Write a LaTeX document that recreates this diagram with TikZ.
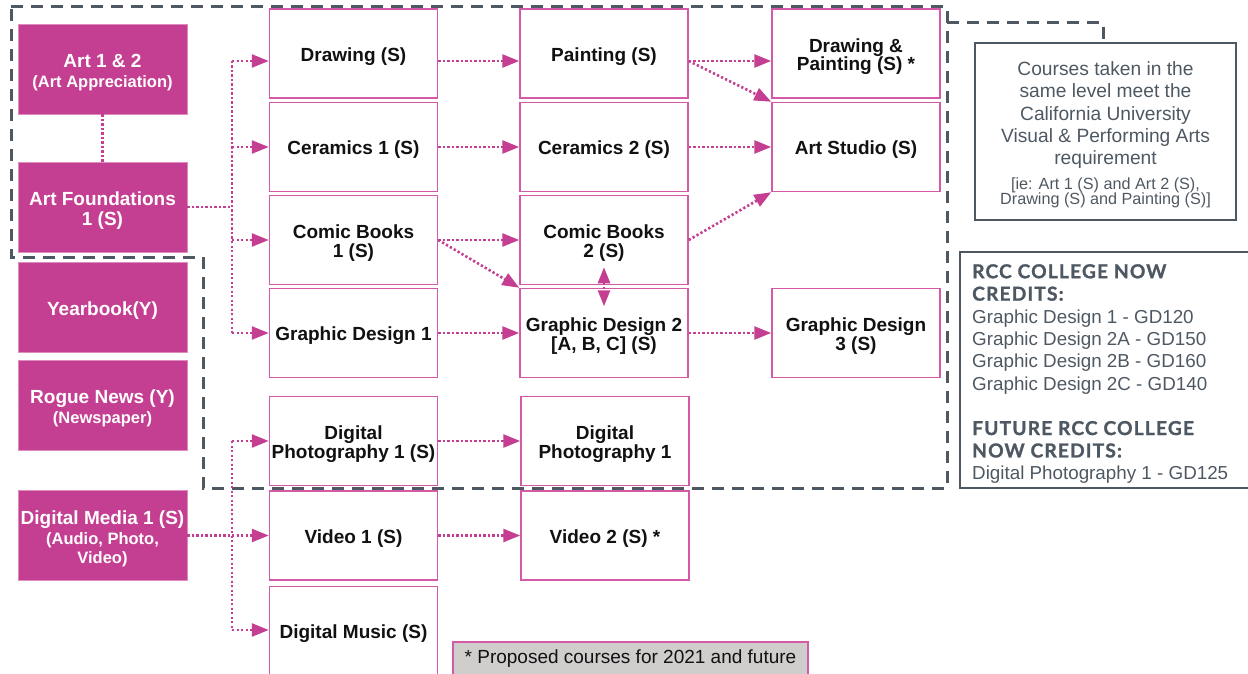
\documentclass[tikz,border=0pt]{standalone}
\usepackage{fontspec}
\setmainfont{Liberation Sans}
\newfontfamily\headfont[LetterSpace=6,FakeBold=1.2]{Lato}
\usetikzlibrary{arrows.meta,calc}
\definecolor{mag}{RGB}{196,63,145}
\definecolor{pinkb}{RGB}{212,90,168}
\definecolor{gry}{RGB}{78,88,98}
\definecolor{txt}{RGB}{17,17,17}
\definecolor{legfill}{RGB}{208,205,205}
\tikzset{
  mbox/.style={fill=mag, draw=mag!60!white, line width=0.8pt, minimum width=169pt, minimum height=90pt, inner sep=0pt},
  mtext/.style={inner sep=0pt, align=center, text=white, font=\bfseries\fontsize{19}{19.5}\selectfont},
  wbox/.style={fill=white, draw=pinkb, line width=1.5pt, minimum width=168pt, minimum height=89pt, inner sep=0pt},
  wtext/.style={inner sep=0pt, align=center, text=txt, font=\bfseries\fontsize{19}{18.3}\selectfont},
  dotl/.style={draw=mag, line width=2.6pt, dash pattern=on 2.3pt off 2.2pt},
  arr/.style={dotl, -{Triangle[length=17pt,width=13pt]}},
  arrtwo/.style={dotl, {Triangle[length=16pt,width=12pt]}-{Triangle[length=16pt,width=12pt]}},
  dashb/.style={draw=gry, line width=3pt, dash pattern=on 12pt off 8pt}
}
\newcommand{\subt}[1]{{\fontsize{16.5}{19}\selectfont #1}}
\newcommand{\wbx}[3]{\node[wbox] (#1) at (#2) {}; \node[wtext] (#1-t) at ($(#1)+(0,3)$) {#3};}
\newcommand{\mbx}[3]{\node[mbox] (#1) at (#2) {}; \node[mtext] (#1-t) at ($(#1)+(0,3.5)$) {#3};}
\begin{document}
\begin{tikzpicture}[x=1pt,y=-1pt]
\useasboundingbox (0,0) rectangle (1248,674);
\clip (0,0) rectangle (1248,674);
% dashed group outline
\draw[dashb] (11,7) -- (947,7) -- (947,488) -- (203,488) -- (203,257) -- (11,257) -- cycle;
% note box
\node[draw=gry, line width=1.5pt, minimum width=261pt, minimum height=177pt, inner sep=0pt] (note) at (1105.5,131.5) {};
\node[inner sep=0pt, align=center, text=gry, font=\fontsize{19.2}{22.3}\selectfont] (note-t) at ($(note)+(0,3.5)$)
 {Courses taken in the\\ same level meet the\\ California University\\ Visual \& Performing Arts\\ requirement\\[2pt]
 {\fontsize{16.2}{15.6}\selectfont [ie: Art 1 (S) and Art 2 (S),}\\[-6.5pt]
 {\fontsize{16.2}{15.6}\selectfont Drawing (S) and Painting (S)]}};
\coordinate (nc) at (947,23);
\draw[dashb] (nc) -| ($(note.north)+(-2.5,0)$);
% RCC box
\node[draw=gry, line width=1.5pt, minimum width=300pt, minimum height=236pt, inner sep=0pt] (rcc) at (1110,370) {};
\node[anchor=north west, inner sep=0pt, align=left, text=gry, font=\fontsize{18.8}{22.4}\selectfont] (rcc-t) at (972,264)
 {{\headfont\bfseries\fontsize{19.2}{22.4}\selectfont RCC COLLEGE NOW}\\
  {\headfont\bfseries\fontsize{19.2}{22.4}\selectfont CREDITS:}\\
  Graphic Design 1 - GD120\\
  Graphic Design 2A - GD150\\
  Graphic Design 2B - GD160\\
  Graphic Design 2C - GD140\\[22.4pt]
  {\headfont\bfseries\fontsize{19.2}{22.4}\selectfont FUTURE RCC COLLEGE}\\
  {\headfont\bfseries\fontsize{19.2}{22.4}\selectfont NOW CREDITS:}\\
  Digital Photography 1 - GD125};
% legend
\node[fill=legfill, draw=pinkb, line width=1.5pt, minimum width=355pt, minimum height=34pt, inner sep=0pt, text=txt, font=\fontsize{19}{22}\selectfont] (legend) at (630.5,659) {* Proposed courses for 2021 and future};
% magenta boxes
\mbx{art}{102.5,69}{Art 1 \& 2\\ \subt{(Art Appreciation)}}
\mbx{af}{102.5,207}{Art Foundations\\ 1 (S)}
\mbx{yb}{102.5,307.5}{Yearbook(Y)}
\mbx{rn}{102.5,405}{Rogue News (Y)\\ \subt{(Newspaper)}}
\mbx{dm}{102.5,535.5}{Digital Media 1 (S)\\ \subt{(Audio, Photo,}\\ \subt{Video)}}
% white boxes col 2
\wbx{drw}{353.5,53.5}{Drawing (S)}
\wbx{cer1}{353.5,147}{Ceramics 1 (S)}
\wbx{cb1}{353.5,240}{Comic Books\\ 1 (S)}
\wbx{gd1}{353.5,333}{Graphic Design 1}
\wbx{dp1}{353.5,441}{Digital\\ Photography 1 (S)}
\wbx{vid1}{353.5,535.5}{Video 1 (S)}
\wbx{dmus}{353.5,631}{Digital Music (S)}
% col 3
\wbx{pnt}{604,53.5}{Painting (S)}
\wbx{cer2}{604,147}{Ceramics 2 (S)}
\wbx{cb2}{604,240}{Comic Books\\ 2 (S)}
\wbx{gd2}{604,333}{Graphic Design 2\\ {[A, B, C]} (S)}
\wbx{dp2}{605,441}{Digital\\ Photography 1}
\wbx{vid2}{605,535.5}{Video 2 (S) *}
% col 4
\wbx{dnp}{856,53.5}{Drawing \&\\ Painting (S) *}
\wbx{ast}{856,147}{Art Studio (S)}
\wbx{gd3}{856,333}{Graphic Design\\ 3 (S)}
% connectors
\draw[dotl] (art.south) -- (af.north);
\coordinate (ja) at (232,61);
\coordinate (jb) at (232,333);
\coordinate (jc) at (232,441);
\coordinate (jd) at (232,630);
\coordinate (rowa) at (0,61);
\draw[dotl] (af.east) -- (af.east -| ja);
\draw[dotl] (ja) -- (jb);
\draw[arr] (ja) -- (drw.west |- ja);
\draw[arr] (ja |- cer1) -- (cer1.west);
\draw[arr] (ja |- cb1) -- (cb1.west);
\draw[arr] (jb) -- (gd1.west |- jb);
\draw[dotl] (dm.east) -- (dm.east -| jc);
\draw[dotl] (jc) -- (jd);
\draw[arr] (jc) -- (dp1.west |- jc);
\draw[arr] (jc |- dm) -- (vid1.west);
\draw[arr] (jd) -- (dmus.west |- jd);
\draw[arr] (drw.east |- rowa) -- (pnt.west |- rowa);
\draw[arr] (pnt.east |- rowa) -- (dnp.west |- rowa);
\draw[arr] (pnt.east |- rowa) -- (ast.north west);
\draw[arr] (cer1.east) -- (cer2.west);
\draw[arr] (cer2.east) -- (ast.west);
\draw[arr] (cb1.east) -- (cb2.west);
\draw[arr] (cb1.east) -- (gd2.north west);
\draw[arr] (cb2.east) -- (ast.south west);
\draw[arrtwo] ($(cb2.south)+(0,-18)$) -- ($(gd2.north)+(0,18.5)$);
\draw[arr] (gd1.east) -- (gd2.west);
\draw[arr] (gd2.east) -- (gd3.west);
\draw[arr] (dp1.east) -- (dp2.west);
\draw[arr] (vid1.east) -- (vid2.west);
\end{tikzpicture}
\end{document}
